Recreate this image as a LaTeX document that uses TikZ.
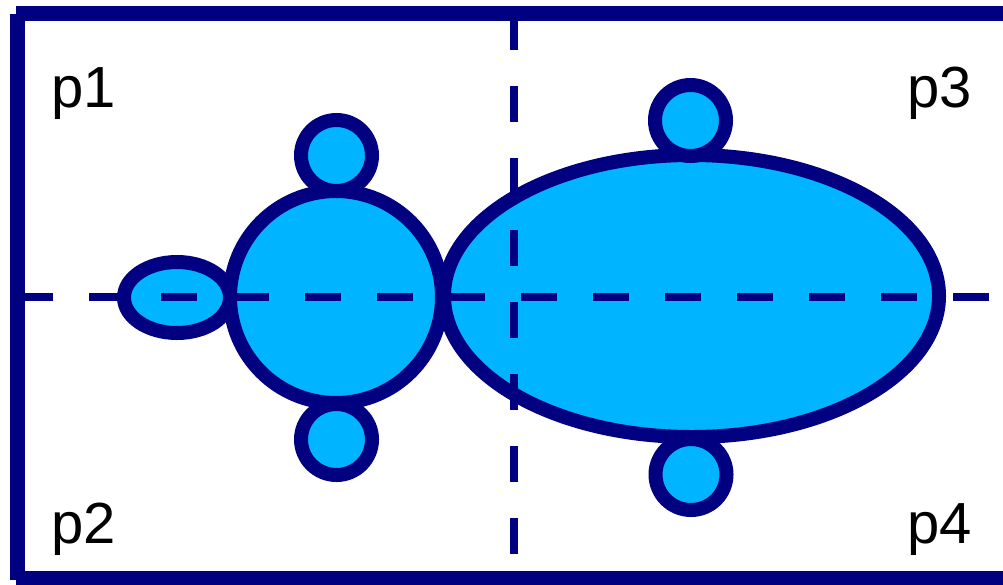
\documentclass[tikz,border=0pt]{standalone}
\usepackage{fontspec}
\setmainfont{Liberation Sans}
\definecolor{navyc}{RGB}{0,0,128}
\definecolor{skyc}{RGB}{0,180,255}
\begin{document}
\begin{tikzpicture}[x=1pt,y=-1pt,
  blob/.style={draw=navyc,fill=skyc,line width=14pt},
  frameline/.style={draw=navyc,line width=15pt,line cap=butt},
  axisline/.style={draw=navyc,line width=8pt,dash pattern=on 36pt off 36pt},
  lbl/.style={font=\fontsize{58}{60}\selectfont,inner sep=0pt,text=black}]
\useasboundingbox (0,0) rectangle (1003,584);
% frame (open on the right)
\draw[frameline] (17.5,14) -- (17.5,580);
\draw[frameline] (16,13) -- (1003,13);
\draw[frameline] (16,578) -- (1003,578);
% shapes
\path[blob] (177,297.5) ellipse [x radius=53pt, y radius=35.5pt];
\path[blob] (336,297) circle [radius=106pt];
\path[blob] (691.5,296) ellipse [x radius=247.5pt, y radius=141pt];
\path[blob] (336.5,155.5) circle [radius=35.5pt];
\path[blob] (336.5,439.5) circle [radius=35.5pt];
\path[blob] (690.5,120.5) circle [radius=35.5pt];
\path[blob] (691,474.5) circle [radius=35.5pt];
% dashed axes
\draw[axisline] (17,297) -- (1003,297);
\draw[axisline] (514,14) -- (514,584);
% labels
\node[lbl,anchor=base west] (p1) at (51,107) {p1};
\node[lbl,anchor=base west] (p2) at (51,543) {p2};
\node[lbl,anchor=base east] (p3) at (972,107) {p3};
\node[lbl,anchor=base east] (p4) at (972,543) {p4};
\end{tikzpicture}
\end{document}
